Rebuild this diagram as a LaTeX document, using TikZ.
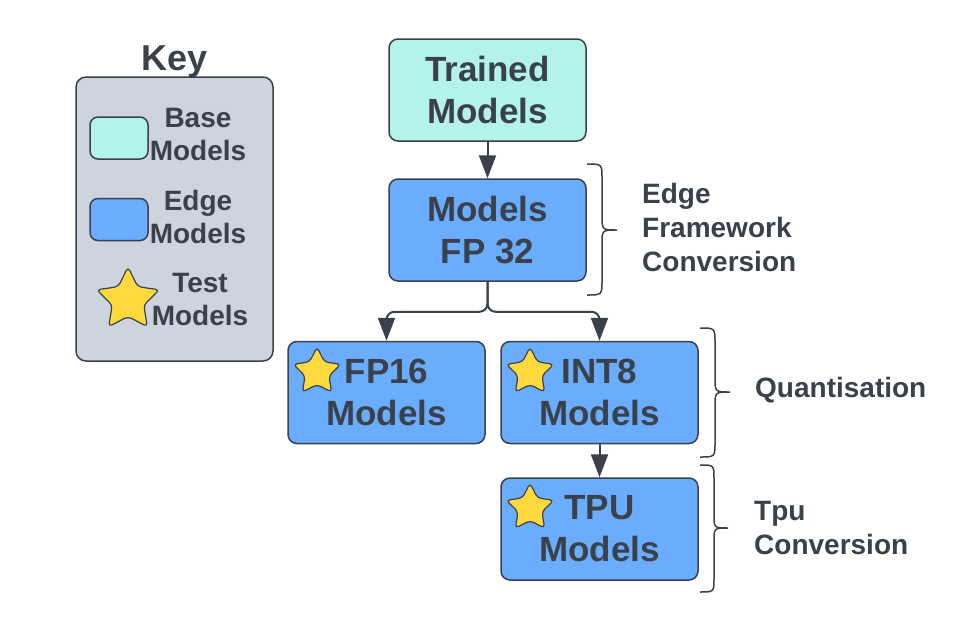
\documentclass[tikz,border=0pt]{standalone}
\usepackage{fontspec}
\setmainfont{Liberation Sans}
\usetikzlibrary{arrows.meta,shapes.geometric}
\definecolor{ink}{HTML}{3A414A}
\definecolor{basefill}{HTML}{B3F3EB}
\definecolor{edgefill}{HTML}{6AADFF}
\definecolor{keyfill}{HTML}{CED4DD}
\definecolor{starfill}{HTML}{FFD93D}
\begin{document}
\begin{tikzpicture}[x=1pt,y=-1pt,
 box/.style={draw=ink, line width=1.5pt, rounded corners=9pt, minimum width=197pt, minimum height=102pt, inner sep=0pt, align=center, text=ink, font=\fontsize{35}{42}\selectfont\bfseries},
 basebox/.style={box, fill=basefill},
 edgebox/.style={box, fill=edgefill},
 swatch/.style={draw=ink, line width=1.5pt, rounded corners=8pt, minimum width=58pt, minimum height=42pt, inner sep=0pt},
 startag/.style={star, star points=5, star point ratio=2.0, draw=ink, line width=1.2pt, fill=starfill, inner sep=0pt, rounded corners=4pt},
 keytext/.style={align=center, text=ink, font=\fontsize{28}{33}\selectfont\bfseries, inner sep=0pt},
 sidetext/.style={align=left, text=ink, font=\fontsize{28}{34}\selectfont\bfseries, inner sep=0pt, anchor=west},
 link/.style={draw=ink, line width=2pt},
 flow/.style={link, -{Triangle[width=17pt,length=23pt]}},
 bracepath/.style={draw=ink, line width=1.5pt}
]
\useasboundingbox (0,0) rectangle (956,616);

% Key
\node[draw=ink, line width=1.5pt, fill=keyfill, rounded corners=10pt, minimum width=197pt, minimum height=284pt, inner sep=0pt] (keybox) at (174.5,219) {};
\node[text=ink, font=\fontsize{36}{42}\selectfont\bfseries, inner sep=0pt] (keytitle) at (175,62) {Key};
\node[swatch, fill=basefill] (swbase) at (119,138) {};
\node[keytext] (txbase) at (198,134.5) {Base\\Models};
\node[swatch, fill=edgefill] (swedge) at (119,219.5) {};
\node[keytext] (txedge) at (198,217) {Edge\\Models};
\node[startag, minimum size=66pt] (swstar) at (128,300) {};
\node[keytext] (txstar) at (200,299.5) {Test\\Models};

% Flow boxes
\node[basebox] (trained) at (487.5,90) {Trained\\Models};
\node[edgebox] (fp32) at (487.5,230) {Models\\FP 32};
\node[edgebox] (fp16) at (386.5,392.5) {FP16\\Models};
\node[edgebox] (int8) at (599.5,392.5) {INT8\\Models};
\node[edgebox] (tpu) at (599.5,529) {TPU\\Models};

% Stars in boxes
\node[startag, minimum size=50pt] (starfp16) at (317,372) {};
\node[startag, minimum size=50pt] (starint8) at (530,372) {};
\node[startag, minimum size=50pt] (startpu) at (530,508) {};

% Connectors
\coordinate (fp16in) at ([yshift=20pt]fp16.north);
\coordinate (int8in) at ([yshift=20pt]int8.north);
\draw[flow] (trained) -- (fp32);
\draw[link, rounded corners=8pt] (fp32.south) -- ++(0,30) -| (fp16in);
\draw[link, rounded corners=8pt] (fp32.south) -- ++(0,30) -| (int8in);
\draw[flow] (fp16in) -- (fp16.north);
\draw[flow] (int8in) -- (int8.north);
\draw[flow] (int8) -- (tpu);

% Braces
\draw[bracepath] (587,164) .. controls (602,164) .. (602,179) -- (602,215) .. controls (602,230) .. (617,230) .. controls (602,230) .. (602,245) -- (602,280) .. controls (602,295) .. (587,295);
\draw[bracepath] (700,328) .. controls (715,328) .. (715,343) -- (715,377) .. controls (715,392) .. (730,392) .. controls (715,392) .. (715,407) -- (715,442) .. controls (715,457) .. (700,457);
\draw[bracepath] (700,465) .. controls (714,465) .. (714,479) -- (714,514) .. controls (714,528) .. (728,528) .. controls (714,528) .. (714,542) -- (714,578) .. controls (714,592) .. (700,592);

% Side labels
\node[sidetext] (lbledge) at (642,227) {Edge\\Framework\\Conversion};
\node[sidetext] (lblquant) at (755,390) {Quantisation};
\node[sidetext] (lbltpu) at (754,527.5) {Tpu\\Conversion};
\end{tikzpicture}
\end{document}
